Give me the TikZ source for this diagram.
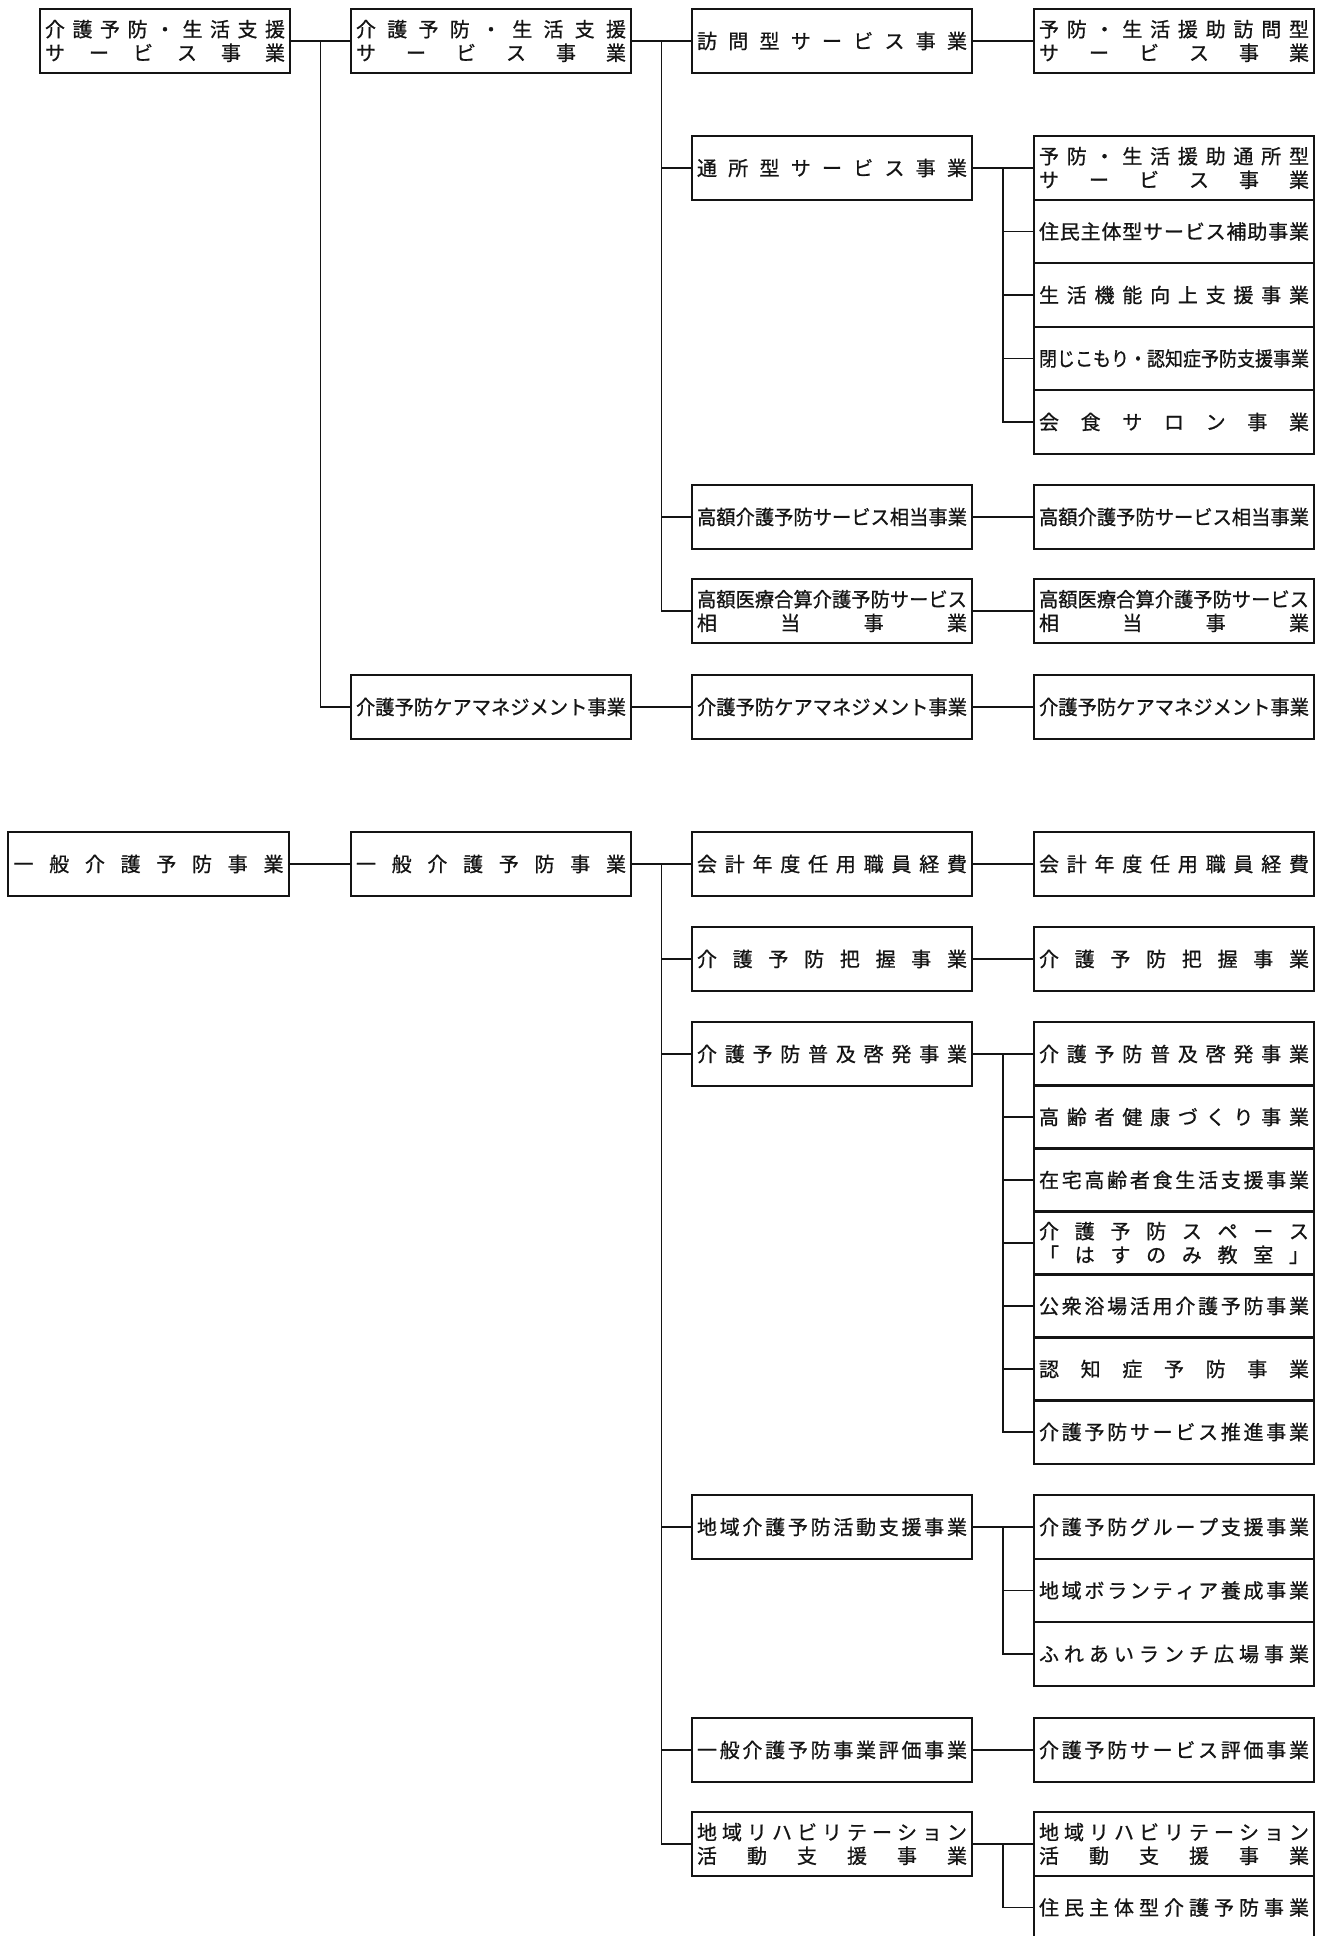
\documentclass[tikz,border=0pt]{standalone}
\usepackage{fontspec}
\usepackage{graphicx}
\newfontfamily\japones[FakeBold=0.8]{Noto Sans CJK JP}
\usetikzlibrary{calc}
\definecolor{tinta}{HTML}{141414}
\def\repartir#1#2{#1\ifx\relax#2\else\hfill\expandafter\repartir\expandafter#2\fi}
\newcommand\linea[1]{\sbox0{#1}\ifdim\wd0>\hsize\resizebox{\hsize}{\height}{#1}\else\makebox[\hsize][s]{\repartir#1\relax}\fi}
\tikzset{
  caja/.style={draw=tinta,line width=1pt,minimum width=140pt,minimum height=31.75pt,text width=135pt,inner sep=0pt,align=left,text=tinta,font=\japones\fontsize{10pt}{11.8pt}\selectfont},
  cajaestrecha/.style={caja,minimum width=125pt,text width=120pt},
  conector/.style={draw=tinta,line width=0.8pt},
}
\begin{document}
\begin{tikzpicture}[x=0.5pt,y=-0.5pt]
\useasboundingbox (0,0) rectangle (1325,1936);
\clip (0,0) rectangle (1325,1936);
\node[cajaestrecha] (a1) at (165,41) {\linea{介護予防・生活支援}\\\linea{サービス事業}};
\node[caja] (b1) at (491,41) {\linea{介護予防・生活支援}\\\linea{サービス事業}};
\node[caja] (b2) at (491,707) {\linea{介護予防ケアマネジメント事業}};
\node[caja] (c1) at (832,41) {\linea{訪問型サービス事業}};
\node[caja] (c2) at (832,168) {\linea{通所型サービス事業}};
\node[caja] (c3) at (832,517) {\linea{高額介護予防サービス相当事業}};
\node[caja] (c4) at (832,611) {\linea{高額医療合算介護予防サービス}\\\linea{相当事業}};
\node[caja] (c5) at (832,707) {\linea{介護予防ケアマネジメント事業}};
\node[caja] (d1) at (1174,41) {\linea{予防・生活援助訪問型}\\\linea{サービス事業}};
\node[caja] (d2) at (1174,168) {\linea{予防・生活援助通所型}\\\linea{サービス事業}};
\node[caja] (d3) at (1174,231.5) {\linea{住民主体型サービス補助事業}};
\node[caja] (d4) at (1174,295) {\linea{生活機能向上支援事業}};
\node[caja] (d5) at (1174,358.5) {\linea{閉じこもり・認知症予防支援事業}};
\node[caja] (d6) at (1174,422) {\linea{会食サロン事業}};
\node[caja] (d7) at (1174,517) {\linea{高額介護予防サービス相当事業}};
\node[caja] (d8) at (1174,611) {\linea{高額医療合算介護予防サービス}\\\linea{相当事業}};
\node[caja] (d9) at (1174,707) {\linea{介護予防ケアマネジメント事業}};
\node[caja,minimum width=140.5pt] (a2) at (148.5,864) {\linea{一般介護予防事業}};
\node[caja] (b3) at (491,864) {\linea{一般介護予防事業}};
\node[caja] (c6) at (832,864) {\linea{会計年度任用職員経費}};
\node[caja] (c7) at (832,959) {\linea{介護予防把握事業}};
\node[caja] (c8) at (832,1054) {\linea{介護予防普及啓発事業}};
\node[caja] (c9) at (832,1527) {\linea{地域介護予防活動支援事業}};
\node[caja] (c10) at (832,1750) {\linea{一般介護予防事業評価事業}};
\node[caja] (c11) at (832,1844) {\linea{地域リハビリテーション}\\\linea{活動支援事業}};
\node[caja] (d10) at (1174,864) {\linea{会計年度任用職員経費}};
\node[caja] (d11) at (1174,959) {\linea{介護予防把握事業}};
\node[caja] (d12) at (1174,1054) {\linea{介護予防普及啓発事業}};
\node[caja] (d13) at (1174,1117) {\linea{高齢者健康づくり事業}};
\node[caja] (d14) at (1174,1180) {\linea{在宅高齢者食生活支援事業}};
\node[caja] (d15) at (1174,1243) {\linea{介護予防スペース}\\\linea{「はすのみ教室」}};
\node[caja] (d16) at (1174,1306) {\linea{公衆浴場活用介護予防事業}};
\node[caja] (d17) at (1174,1369) {\linea{認知症予防事業}};
\node[caja] (d18) at (1174,1432) {\linea{介護予防サービス推進事業}};
\node[caja] (d19) at (1174,1527) {\linea{介護予防グループ支援事業}};
\node[caja] (d20) at (1174,1590.5) {\linea{地域ボランティア養成事業}};
\node[caja] (d21) at (1174,1654) {\linea{ふれあいランチ広場事業}};
\node[caja] (d22) at (1174,1750) {\linea{介護予防サービス評価事業}};
\node[caja] (d23) at (1174,1844) {\linea{地域リハビリテーション}\\\linea{活動支援事業}};
\node[caja] (d24) at (1174,1907.5) {\linea{住民主体型介護予防事業}};
\coordinate (m0) at ($(a1.east)!.5!(b1.west)$);
\coordinate (m1) at ($(b1.east)!.5!(c1.west)$);
\coordinate (m2) at ($(c2.east)!.5!(d2.west)$);
\coordinate (m3) at ($(b3.east)!.5!(c6.west)$);
\coordinate (m4) at ($(c8.east)!.5!(d12.west)$);
\coordinate (m5) at ($(c9.east)!.5!(d19.west)$);
\coordinate (m6) at ($(c11.east)!.5!(d23.west)$);
\draw[conector] (a1.east) -- (b1.west);
\draw[conector] (m0) |- (b2.west);
\draw[conector] (b1.east) -- (c1.west);
\foreach \n in {c2,c3,c4} \draw[conector] (m1) |- (\n.west);
\draw[conector] (c1.east) -- (d1.west);
\draw[conector] (c2.east) -- (d2.west);
\foreach \n in {d3,d4,d5,d6} \draw[conector] (m2) |- (\n.west);
\draw[conector] (c3.east) -- (d7.west);
\draw[conector] (c4.east) -- (d8.west);
\draw[conector] (b2.east) -- (c5.west);
\draw[conector] (c5.east) -- (d9.west);
\draw[conector] (a2.east) -- (b3.west);
\draw[conector] (b3.east) -- (c6.west);
\foreach \n in {c7,c8,c9,c10,c11} \draw[conector] (m3) |- (\n.west);
\draw[conector] (c6.east) -- (d10.west);
\draw[conector] (c7.east) -- (d11.west);
\draw[conector] (c8.east) -- (d12.west);
\foreach \n in {d13,d14,d15,d16,d17,d18} \draw[conector] (m4) |- (\n.west);
\draw[conector] (c9.east) -- (d19.west);
\foreach \n in {d20,d21} \draw[conector] (m5) |- (\n.west);
\draw[conector] (c10.east) -- (d22.west);
\draw[conector] (c11.east) -- (d23.west);
\draw[conector] (m6) |- (d24.west);
\end{tikzpicture}
\end{document}
